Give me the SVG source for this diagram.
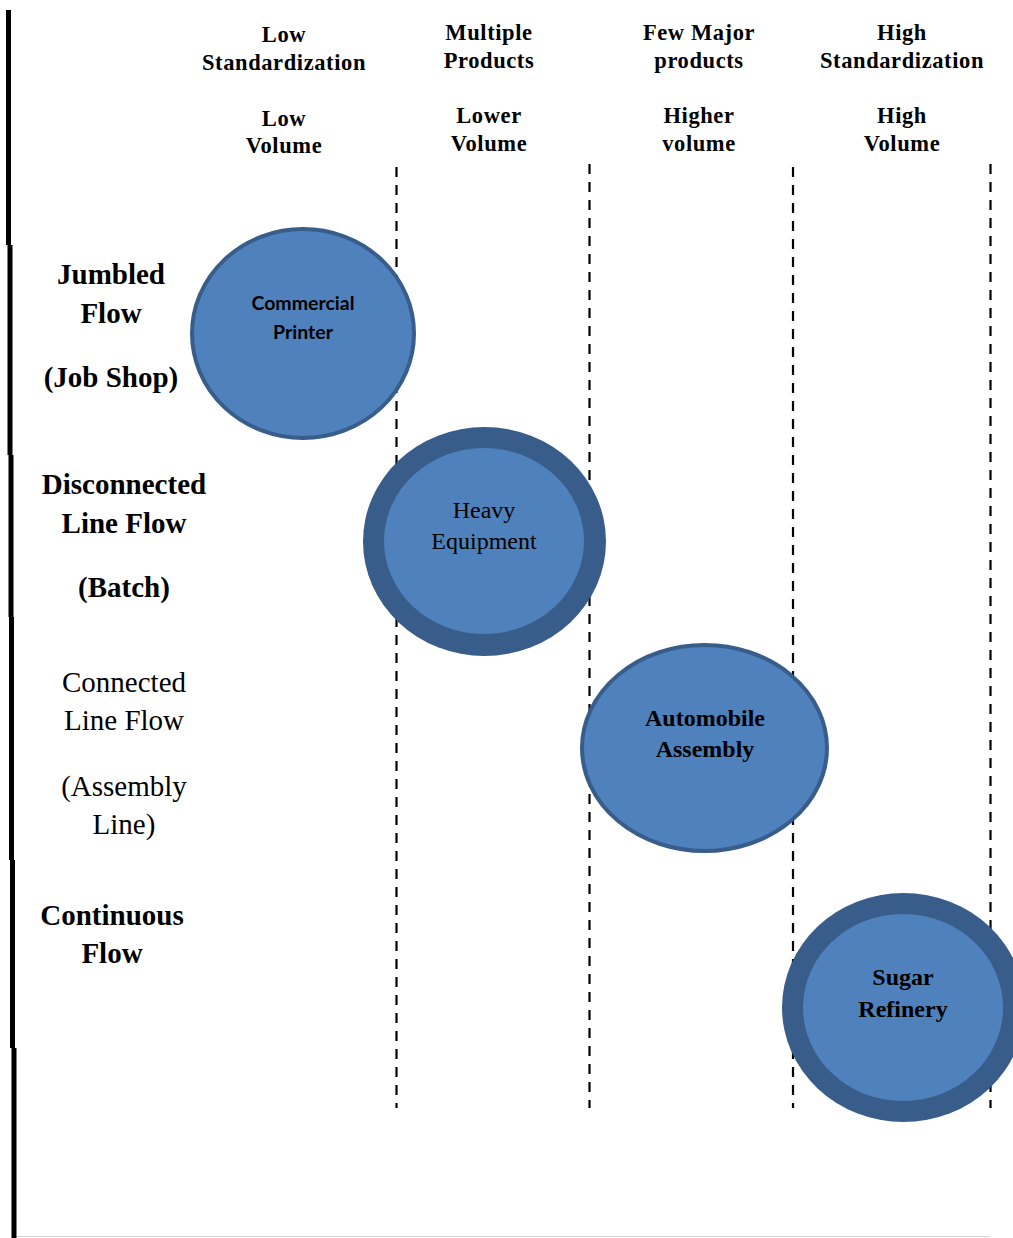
<svg xmlns="http://www.w3.org/2000/svg" width="1013" height="1238" viewBox="0 0 1013 1238">
  <style>
    .hdr { font-family: "Liberation Serif", "Times New Roman", serif; font-weight: bold; font-size: 22.5px; fill: #000; text-anchor: middle; letter-spacing: 0.6px; }
    .row { font-family: "Liberation Serif", "Times New Roman", serif; font-size: 29px; fill: #000; text-anchor: middle; }
    .rowb { font-weight: bold; }
    .divider { stroke: #000; stroke-width: 2.2; stroke-dasharray: 10 8; fill: none; }
    .edge { stroke: #000; stroke-width: 5; fill: none; }
    .blob { fill: #4f81bd; stroke: #385d8a; stroke-width: 4; }
    .ring { fill: #385d8a; }
    .core { fill: #4f81bd; }
    .lbl-serif { font-family: "Liberation Serif", "Times New Roman", serif; font-size: 24px; fill: #000; text-anchor: middle; }
    .lbl-sans { font-family: Lato, "Open Sans", sans-serif; font-weight: bold; font-size: 19.5px; fill: #000; text-anchor: middle; }
  </style>

  <rect x="0" y="0" width="1013" height="1238" fill="#fff"/>

  <!-- left frame edge, drawn as slightly offset pieces -->
  <g id="frame">
    <line class="edge" x1="8.5" y1="10" x2="8.5" y2="245"/>
    <line class="edge" x1="10" y1="245" x2="10" y2="455"/>
    <line class="edge" x1="11" y1="455" x2="11" y2="617"/>
    <line class="edge" x1="11.5" y1="617" x2="11.5" y2="860"/>
    <line class="edge" x1="12.5" y1="860" x2="12.5" y2="1048"/>
    <line class="edge" x1="14" y1="1048" x2="14" y2="1238"/>
    <line x1="17" y1="1236.5" x2="990" y2="1236.5" stroke="#d0d0d0" stroke-width="1"/>
  </g>

  <!-- column headings -->
  <g id="col-low">
    <text class="hdr" x="284" y="42">Low</text>
    <text class="hdr" x="284" y="70">Standardization</text>
    <text class="hdr" x="284" y="126">Low</text>
    <text class="hdr" x="284" y="153">Volume</text>
  </g>
  <g id="col-multiple">
    <text class="hdr" x="489" y="40">Multiple</text>
    <text class="hdr" x="489" y="68">Products</text>
    <text class="hdr" x="489" y="123">Lower</text>
    <text class="hdr" x="489" y="151">Volume</text>
  </g>
  <g id="col-few">
    <text class="hdr" x="699" y="40">Few Major</text>
    <text class="hdr" x="699" y="68">products</text>
    <text class="hdr" x="699" y="123">Higher</text>
    <text class="hdr" x="699" y="151">volume</text>
  </g>
  <g id="col-high">
    <text class="hdr" x="902" y="40">High</text>
    <text class="hdr" x="902" y="68">Standardization</text>
    <text class="hdr" x="902" y="123">High</text>
    <text class="hdr" x="902" y="151">Volume</text>
  </g>

  <!-- row headings -->
  <g id="row-jumbled">
    <text class="row rowb" x="111" y="284">Jumbled</text>
    <text class="row rowb" x="111" y="323">Flow</text>
    <text class="row rowb" x="111" y="387">(Job Shop)</text>
  </g>
  <g id="row-disconnected">
    <text class="row rowb" x="124" y="494">Disconnected</text>
    <text class="row rowb" x="124" y="533">Line Flow</text>
    <text class="row rowb" x="124" y="597">(Batch)</text>
  </g>
  <g id="row-connected">
    <text class="row" x="124" y="692">Connected</text>
    <text class="row" x="124" y="730">Line Flow</text>
    <text class="row" x="124" y="796">(Assembly</text>
    <text class="row" x="124" y="834">Line)</text>
  </g>
  <g id="row-continuous">
    <text class="row rowb" x="112" y="925">Continuous</text>
    <text class="row rowb" x="112" y="963">Flow</text>
  </g>

  <!-- dashed column dividers -->
  <g id="dividers">
    <line class="divider" x1="396.5" y1="167" x2="396.5" y2="1108"/>
    <line class="divider" x1="589.5" y1="164" x2="589.5" y2="1108"/>
    <line class="divider" x1="793" y1="167" x2="793" y2="1108"/>
    <line class="divider" x1="990.5" y1="164" x2="990.5" y2="1108"/>
  </g>

  <!-- process examples -->
  <g id="commercial-printer">
    <ellipse class="blob" cx="303" cy="333.5" rx="111" ry="104.5"/>
    <text class="lbl-sans" x="303" y="310">Commercial</text>
    <text class="lbl-sans" x="303" y="339">Printer</text>
  </g>
  <g id="heavy-equipment">
    <ellipse class="ring" cx="484.5" cy="541.5" rx="121.5" ry="114.5"/>
    <ellipse class="core" cx="484" cy="541" rx="100" ry="93"/>
    <text class="lbl-serif" x="484" y="518">Heavy</text>
    <text class="lbl-serif" x="484" y="549">Equipment</text>
  </g>
  <g id="automobile-assembly">
    <ellipse class="blob" cx="704.5" cy="748" rx="122.5" ry="103"/>
    <text class="lbl-serif" x="705" y="726" font-weight="bold">Automobile</text>
    <text class="lbl-serif" x="705" y="757" font-weight="bold">Assembly</text>
  </g>
  <g id="sugar-refinery">
    <ellipse class="ring" cx="903.5" cy="1007.5" rx="121.5" ry="114.5"/>
    <ellipse class="core" cx="903" cy="1007.5" rx="100" ry="93.5"/>
    <text class="lbl-serif" x="903" y="985" font-weight="bold">Sugar</text>
    <text class="lbl-serif" x="903" y="1017" font-weight="bold">Refinery</text>
  </g>
</svg>
